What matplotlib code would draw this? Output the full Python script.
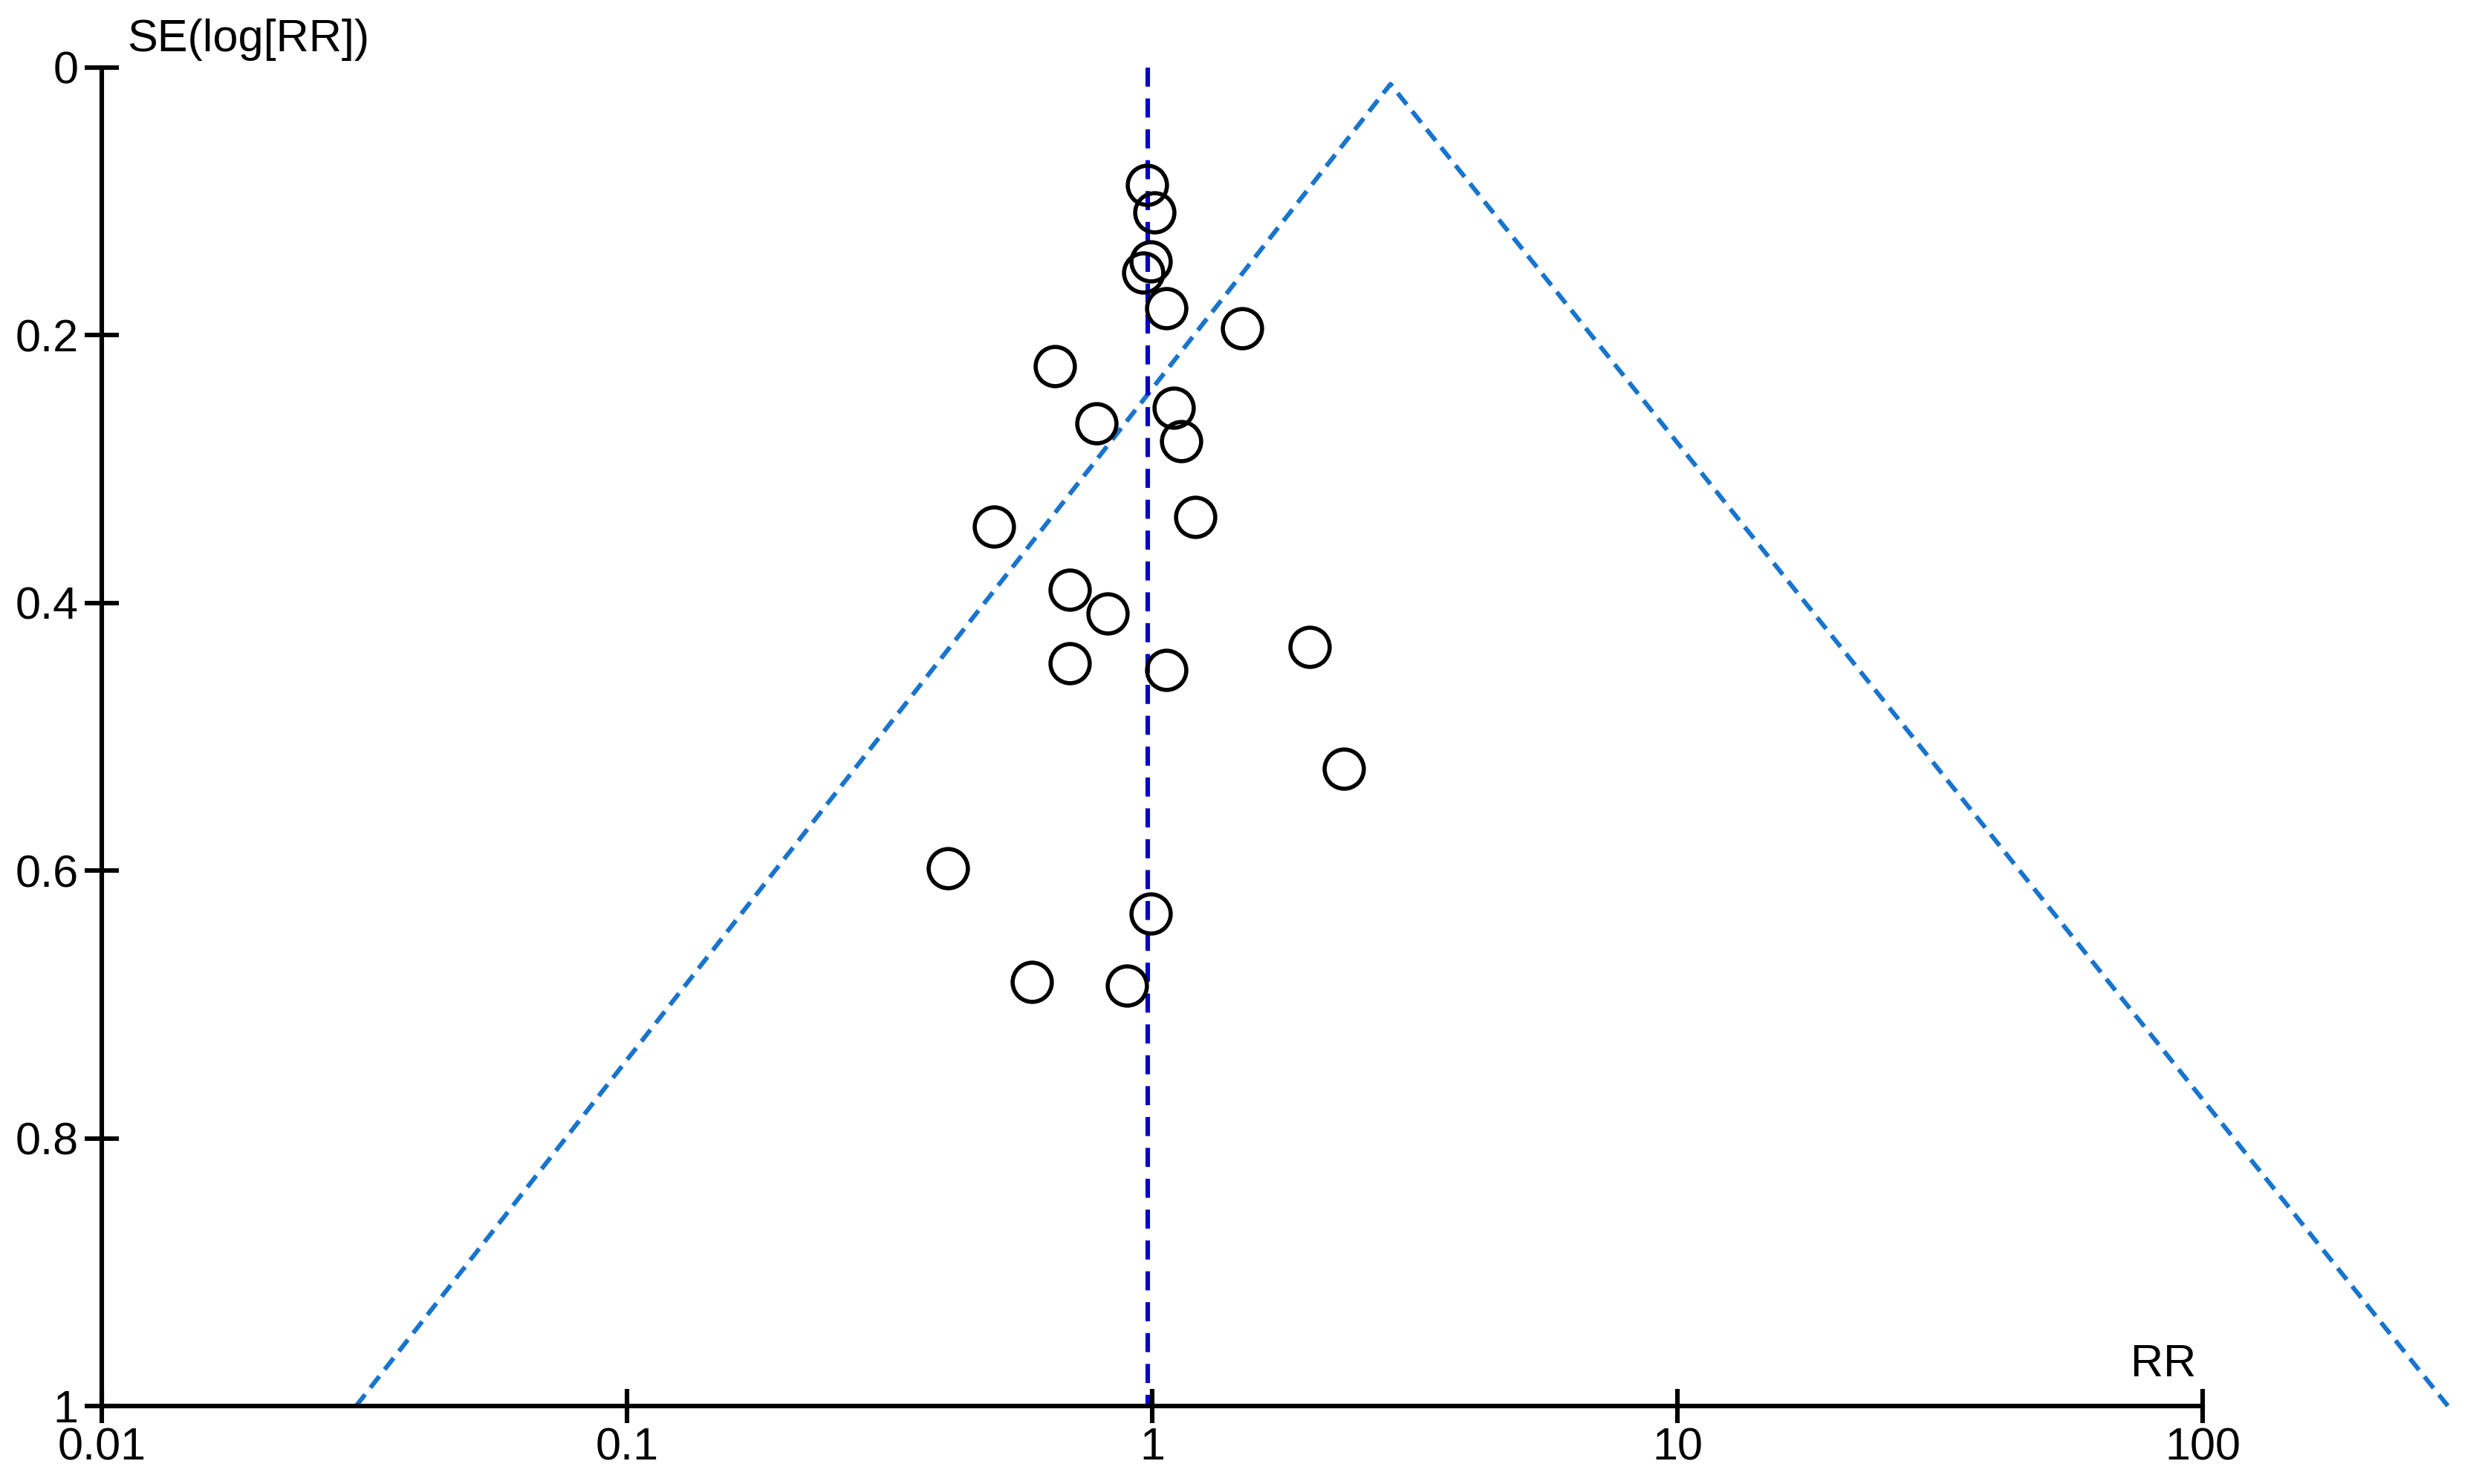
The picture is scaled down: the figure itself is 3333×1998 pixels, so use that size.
import numpy as np
import matplotlib
matplotlib.use("Agg")
import matplotlib.pyplot as plt

plt.rcParams['font.family'] = ['Liberation Sans', 'DejaVu Sans']

# study estimates
rr = [0.976, 1.010, 0.992, 0.961, 1.063, 1.482, 0.653, 1.098, 1.134, 0.782, 1.208,
      0.499, 0.697, 0.823, 0.697, 1.065, 1.995, 2.317, 0.409, 0.992, 0.590, 0.894]
se = [0.088, 0.108, 0.145, 0.153, 0.180, 0.195, 0.223, 0.254, 0.279, 0.266, 0.336,
      0.343, 0.390, 0.408, 0.445, 0.450, 0.433, 0.524, 0.598, 0.632, 0.683, 0.686]

pooled_rr = 0.981

# funnel outline (left end, apex, right end)
funnel_x = [0.0305, 2.842, 293.0]
funnel_y = [1.0, 0.0124, 1.0]

x_ticks = [0.01, 0.1, 1, 10, 100]
x_tick_labels = ["0.01", "0.1", "1", "10", "100"]
y_ticks = [0, 0.2, 0.4, 0.6, 0.8, 1]
y_tick_labels = ["0", "0.2", "0.4", "0.6", "0.8", "1"]

fig = plt.figure(figsize=(16.665, 9.99), dpi=200)
ax = fig.add_axes([0.0411, 0.0526, 0.8485, 0.9019])

ax.set_xscale('log')
ax.set_xlim(0.01, 100)
ax.set_ylim(1, 0)

# funnel lines
ax.plot(funnel_x, funnel_y, color='#1874CD', lw=2.2, linestyle=(0, (3.2, 1.9)),
        clip_on=False, zorder=2)
# pooled estimate
ax.plot([pooled_rr, pooled_rr], [0, 1], color='#0000CC', lw=2.2,
        linestyle=(0, (4.2, 2.6)), zorder=2)

ax.plot(rr, se, 'o', markersize=19, markerfacecolor='none',
        markeredgecolor='black', markeredgewidth=2.0, linestyle='none', zorder=3)

ax.set_xticks(x_ticks)
ax.set_xticklabels(x_tick_labels)
ax.xaxis.set_minor_locator(matplotlib.ticker.NullLocator())
ax.set_yticks(y_ticks)
ax.set_yticklabels(y_tick_labels)

for side in ['top', 'right']:
    ax.spines[side].set_visible(False)
for side in ['left', 'bottom']:
    ax.spines[side].set_linewidth(2.2)

ax.tick_params(axis='both', direction='inout', length=16.5, width=2.2, labelsize=22)
ax.tick_params(axis='x', pad=2)
ax.tick_params(axis='y', pad=3)

ax.text(0.012, 1.005, "SE(log[RR])", transform=ax.transAxes, fontsize=22,
        ha='left', va='bottom')
ax.text(0.997, 0.015, "RR", transform=ax.transAxes, fontsize=22,
        ha='right', va='bottom')

fig.savefig("out.png", dpi=200, facecolor='white')
